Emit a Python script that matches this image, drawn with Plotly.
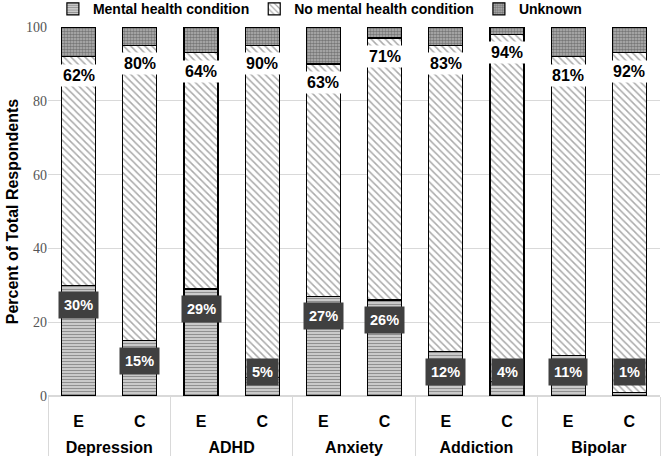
import plotly.graph_objects as go

conditions = ["Depression", "ADHD", "Anxiety", "Addiction", "Bipolar"]
cohorts = ["E", "C"]

mental = [30, 15, 29, 5, 27, 26, 12, 4, 11, 1]
no_mental = [62, 80, 64, 90, 63, 71, 83, 94, 81, 92]
unknown = [8, 5, 7, 5, 10, 3, 5, 2, 8, 7]

# group names get a leading break so they sit one line lower, like the table rows
x_groups = ["<br>" + c for c in conditions for _ in cohorts]
x_cohorts = [k for _ in conditions for k in cohorts]
x = [x_groups, x_cohorts]

sans = "Liberation Sans"
line = dict(color="black", width=1.2)

fig = go.Figure()
fig.add_trace(go.Bar(
    x=x, y=mental, name="Mental health condition",
    marker=dict(color="#d8d8d8", line=line,
                pattern=dict(shape="-", size=3, solidity=0.5, fgcolor="#444444", bgcolor="#dddddd")),
))
fig.add_trace(go.Bar(
    x=x, y=no_mental, name="No mental health condition",
    marker=dict(color="white", line=line,
                pattern=dict(shape="\\", size=5, solidity=0.3, fgcolor="#555555", bgcolor="white")),
))
fig.add_trace(go.Bar(
    x=x, y=unknown, name="Unknown",
    marker=dict(color="#999999", line=line,
                pattern=dict(shape=".", size=3, solidity=0.6, fgcolor="#3a3a3a", bgcolor="#b5b5b5")),
))

annotations = []
for i, (m, n) in enumerate(zip(mental, no_mental)):
    # dark box near the top of the condition segment (kept off the floor)
    annotations.append(dict(
        x=i, y=max(m, 12), yanchor="top", yshift=-6, showarrow=False,
        text=f"{m}%", font=dict(family=sans, size=14.5, color="white", weight="bold"),
        bgcolor="#404040", borderpad=5,
    ))
    # white box near the top of the no-condition segment
    annotations.append(dict(
        x=i, y=m + n, yanchor="top", yshift=-7, showarrow=False,
        text=f"{n}%", font=dict(family=sans, size=16, color="black", weight="bold"),
        bgcolor="white", borderpad=2,
    ))

fig.update_layout(
    barmode="stack",
    bargap=0.445,
    width=661, height=463,
    margin=dict(l=48, r=1, t=27, b=67),
    paper_bgcolor="white", plot_bgcolor="white",
    annotations=annotations,
    legend=dict(orientation="h", x=0.008, xanchor="left",
                yref="container", y=0.98, yanchor="middle",
                font=dict(family=sans, size=14, color="black", weight="bold"),
                itemwidth=30, traceorder="normal"),
    showlegend=True,
)
fig.update_xaxes(
    type="multicategory", showgrid=False, showline=False,
    ticks="outside", ticklen=15, tickcolor="rgba(0,0,0,0)", ticklabelstandoff=14,
    showdividers=True, dividercolor="#d9d9d9", dividerwidth=1,
    tickfont=dict(family=sans, size=16, color="black", weight="bold"),
    automargin=False,
)
fig.update_yaxes(
    range=[0, 100], dtick=20, showgrid=True, gridcolor="#d9d9d9", gridwidth=1,
    zeroline=True, zerolinecolor="#d9d9d9", showline=False,
    tickfont=dict(family="Liberation Serif", size=14, color="#555555"),
    title=dict(text="Percent of Total Respondents", standoff=3,
               font=dict(family=sans, size=16, color="black", weight="bold")),
    automargin=False,
)

fig.write_html("out.html", config={"displayModeBar": False},
               post_script="document.body.style.margin='0';")
